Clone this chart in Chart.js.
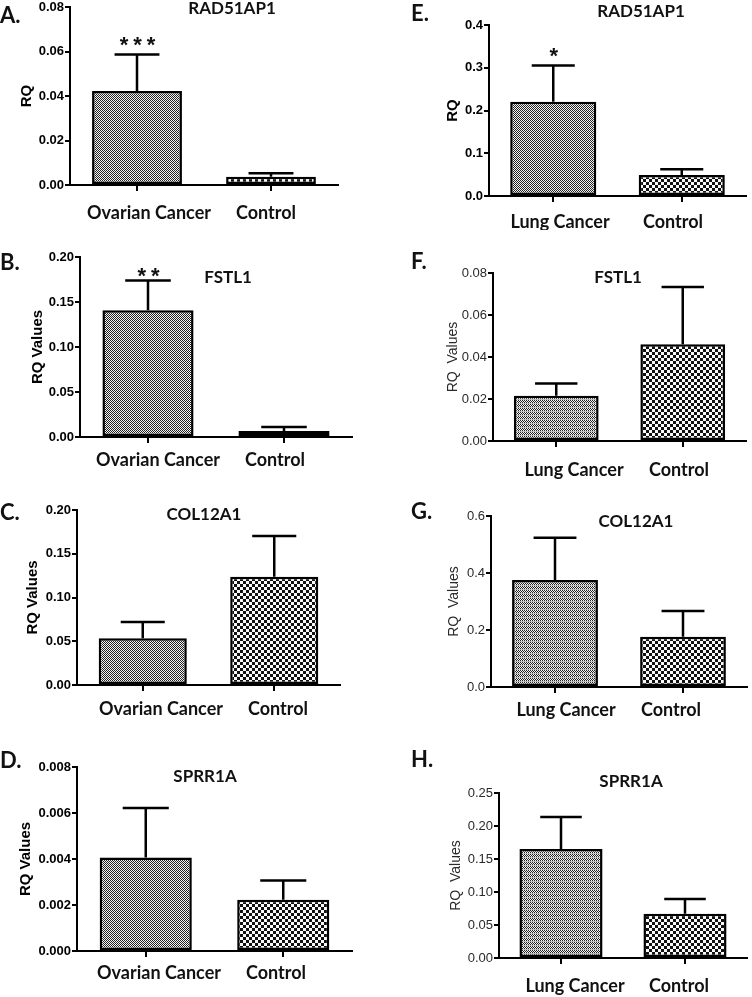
<!DOCTYPE html>
<html>
<head>
<meta charset="utf-8">
<script src="https://cdn.jsdelivr.net/npm/chart.js@4.4.0/dist/chart.umd.min.js"></script>
<style>
  body { margin: 0; background: #fff; width: 752px; height: 997px; overflow: hidden; position: relative; }
  canvas { position: absolute; }
</style>
</head>
<body>
<canvas id="panelA"></canvas>
<canvas id="panelB"></canvas>
<canvas id="panelC"></canvas>
<canvas id="panelD"></canvas>
<canvas id="panelE"></canvas>
<canvas id="panelF"></canvas>
<canvas id="panelG"></canvas>
<canvas id="panelH"></canvas>
<script>
// ---- data ----
const ovarianGroups = ['Ovarian Cancer', 'Control'];
const lungGroups = ['Lung Cancer', 'Control'];

const panelLetters = ['A.', 'B.', 'C.', 'D.', 'E.', 'F.', 'G.', 'H.'];
const geneTitles = ['RAD51AP1', 'FSTL1', 'COL12A1', 'SPRR1A', 'RAD51AP1', 'FSTL1', 'COL12A1', 'SPRR1A'];
const yAxisTitles = ['RQ', 'RQ Values', 'RQ Values', 'RQ Values', 'RQ', 'RQ  Values', 'RQ  Values', 'RQ  Values'];

// mean RQ and upper error (SEM) per group
const meanA = [0.0422, 0.0037];   const semA = [0.0165, 0.0016];
const meanB = [0.1409, 0.0067];   const semB = [0.0331, 0.0043];
const meanC = [0.0534, 0.1238];   const semC = [0.0186, 0.0465];
const meanD = [0.00406, 0.00223]; const semD = [0.00216, 0.00084];
const meanE = [0.2206, 0.049];    const semE = [0.0844, 0.0134];
const meanF = [0.0215, 0.0461];   const semF = [0.0059, 0.0272];
const meanG = [0.3758, 0.176];    const semG = [0.148, 0.091];
const meanH = [0.165, 0.0669];    const semH = [0.0488, 0.0226];

const starsA = ['***', ''];
const starsB = ['**', ''];
const starsE = ['*', ''];
const noStars = ['', ''];

// y tick labels: max, step, decimals
const yTickMax = [0.08, 0.20, 0.20, 0.008, 0.4, 0.08, 0.6, 0.25];
const yTickStep = [0.02, 0.05, 0.05, 0.002, 0.1, 0.02, 0.2, 0.05];
const yTickDecimals = [2, 2, 2, 3, 1, 2, 1, 2];

// ---- layout (page pixels) ----
const rowTops = [0, 230, 480, 740];
const rowBottoms = [230, 480, 740, 997];

// area = [left, right, top, bottom] of the plot box; xLabelAt = label centres (the
// group names were pasted a little off the bar centres in the original)
const panels = [
  { id: 'panelA', col: 0,   row: 0, area: [70, 338, 7, 185],   labels: ovarianGroups, mean: meanA, sem: semA, stars: starsA, heavy: true,  lung: false,
    titleAt: [232, 9],   letterAt: [0, 16],   yTitleX: 27, xLabelAt: [149, 266], xLabelY: 213, starGap: 13 },
  { id: 'panelB', col: 0,   row: 1, area: [80, 352, 257, 437], labels: ovarianGroups, mean: meanB, sem: semB, stars: starsB, heavy: true,  lung: false,
    titleAt: [228, 278], letterAt: [0, 263],  yTitleX: 38, xLabelAt: [158, 275], xLabelY: 460, starGap: 8 },
  { id: 'panelC', col: 0,   row: 2, area: [77, 340, 510, 685], labels: ovarianGroups, mean: meanC, sem: semC, stars: noStars, heavy: true, lung: false,
    titleAt: [204, 515], letterAt: [0, 513],  yTitleX: 33, xLabelAt: [161, 278], xLabelY: 709, starGap: 10 },
  { id: 'panelD', col: 0,   row: 3, area: [77, 352, 767, 951], labels: ovarianGroups, mean: meanD, sem: semD, stars: noStars, heavy: true, lung: false,
    titleAt: [205, 777], letterAt: [0, 761],  yTitleX: 26, xLabelAt: [159, 276], xLabelY: 973, starGap: 10 },
  { id: 'panelE', col: 376, row: 0, area: [489, 746, 25, 196], labels: lungGroups, mean: meanE, sem: semE, stars: starsE, heavy: true,  lung: true,
    titleAt: [641, 12],  letterAt: [411, 14], yTitleX: 77, xLabelAt: [560, 673], xLabelY: 222, starGap: 14 },
  { id: 'panelF', col: 376, row: 1, area: [493, 746, 273, 441], labels: lungGroups, mean: meanF, sem: semF, stars: noStars, heavy: false, lung: true,
    titleAt: [618, 278], letterAt: [411, 262], yTitleX: 77, xLabelAt: [574, 679], xLabelY: 470, starGap: 10 },
  { id: 'panelG', col: 376, row: 2, area: [491, 747, 516, 687], labels: lungGroups, mean: meanG, sem: semG, stars: noStars, heavy: false, lung: true,
    titleAt: [636, 522], letterAt: [411, 512], yTitleX: 78, xLabelAt: [566, 671], xLabelY: 710, starGap: 10 },
  { id: 'panelH', col: 376, row: 3, area: [499, 747, 793, 958], labels: lungGroups, mean: meanH, sem: semH, stars: noStars, heavy: false, lung: true,
    titleAt: [631, 782], letterAt: [411, 760], yTitleX: 80, xLabelAt: [575, 679], xLabelY: 986, starGap: 10 }
];

// fill patterns like the printed hatching
function makePattern(kind) {
  const c = document.createElement('canvas');
  const g = c.getContext('2d');
  if (kind === 'fine') {
    c.width = 2; c.height = 2;
    g.fillStyle = '#f4f4f4'; g.fillRect(0, 0, 2, 2);
    g.fillStyle = '#222'; g.fillRect(0, 0, 1, 1); g.fillRect(1, 1, 1, 1);
  } else if (kind === 'striped') {
    c.width = 2; c.height = 4;
    g.fillStyle = '#f4f4f4'; g.fillRect(0, 0, 2, 4);
    g.fillStyle = '#222'; g.fillRect(0, 0, 1, 1); g.fillRect(1, 1, 1, 1); g.fillRect(0, 2, 1, 1);
    g.fillStyle = '#bbb'; g.fillRect(0, 3, 2, 1);
  } else {
    c.width = 6; c.height = 6;
    g.fillStyle = '#fafafa'; g.fillRect(0, 0, 6, 6);
    g.fillStyle = '#111'; g.fillRect(0, 0, 3, 3); g.fillRect(3, 3, 3, 3);
  }
  return g.createPattern(c, 'repeat');
}

// error bars, asterisks, group names, gene title and panel letter
const panelDeco = {
  id: 'panelDeco',
  afterDatasetsDraw(chart, args, opts) {
    const ctx = chart.ctx;
    const y = chart.scales.y;
    const ds = chart.data.datasets[0];
    const bars = chart.getDatasetMeta(0).data;
    ctx.save();
    ctx.strokeStyle = '#000';
    ctx.lineWidth = 2.5;
    bars.forEach((bar, i) => {
      const top = y.getPixelForValue(ds.data[i] + opts.sem[i]);
      const half = bar.width / 4;
      ctx.beginPath();
      ctx.moveTo(bar.x, bar.y);
      ctx.lineTo(bar.x, top);
      ctx.moveTo(bar.x - half, top);
      ctx.lineTo(bar.x + half, top);
      ctx.stroke();
      if (opts.stars[i]) {
        ctx.fillStyle = '#111';
        ctx.font = 'bold 22px "Liberation Sans"';
        ctx.textAlign = 'center';
        ctx.textBaseline = 'middle';
        ctx.letterSpacing = '5px';
        ctx.fillText(opts.stars[i], bar.x + 3, top - opts.starGap + 5);
        ctx.letterSpacing = '0px';
      }
    });
    ctx.fillStyle = '#111';
    ctx.textBaseline = 'middle';
    ctx.textAlign = 'center';
    ctx.font = 'bold 18px Lato';
    chart.data.labels.forEach((name, i) => {
      ctx.fillText(name, opts.xLabelAt[i] - opts.offX, opts.xLabelY - opts.offY);
    });
    ctx.font = 'bold 17px Lato';
    ctx.fillText(opts.title, opts.titleAt[0] - opts.offX, opts.titleAt[1] - opts.offY);
    ctx.textAlign = 'left';
    ctx.font = 'bold 22px Lato';
    ctx.fillText(opts.letter, opts.letterAt[0] - opts.offX, opts.letterAt[1] - opts.offY);
    ctx.restore();
  }
};

const finePattern = makePattern('fine');
const stripedPattern = makePattern('striped');
const coarsePattern = makePattern('coarse');

panels.forEach((p, k) => {
  const canvas = document.getElementById(p.id);
  const top = rowTops[p.row] - 10;
  const height = rowBottoms[p.row] - top;
  canvas.width = 376;
  canvas.height = height;
  canvas.style.left = p.col + 'px';
  canvas.style.top = top + 'px';

  const [L, R, T, B] = p.area;
  const yWidth = L - p.col;
  const xHeight = top + height - B;
  const tickFont = { family: '"Liberation Sans", Arial', size: 13, weight: p.heavy ? 'bold' : 'normal' };
  const textColor = p.heavy ? '#000' : '#2a2a2a';
  const titleSize = p.heavy ? 15 : 14;
  const decimals = yTickDecimals[k];

  new Chart(canvas, {
    type: 'bar',
    data: {
      labels: p.labels,
      datasets: [{
        data: p.mean,
        backgroundColor: [p.lung && !p.heavy ? stripedPattern : finePattern, coarsePattern],
        borderColor: '#000',
        borderWidth: 2.5,
        borderSkipped: false,
        barPercentage: 0.67,
        categoryPercentage: 1
      }]
    },
    options: {
      responsive: false,
      animation: false,
      devicePixelRatio: 1,
      layout: { padding: { top: T - top, right: p.col + 376 - R, left: 0, bottom: 0 } },
      plugins: {
        legend: { display: false },
        tooltip: { enabled: false },
        panelDeco: {
          sem: p.sem, stars: p.stars, starGap: p.starGap,
          title: geneTitles[k], titleAt: p.titleAt,
          letter: panelLetters[k], letterAt: p.letterAt,
          xLabelAt: p.xLabelAt, xLabelY: p.xLabelY,
          offX: p.col, offY: top
        }
      },
      scales: {
        x: {
          afterFit: s => { s.height = xHeight; },
          grid: { display: true, drawOnChartArea: false, drawTicks: true, tickLength: 6, offset: false, color: '#000', lineWidth: 2 },
          border: { display: true, color: '#000', width: 2 },
          ticks: { display: false }
        },
        y: {
          min: 0,
          max: yTickMax[k],
          afterFit: s => { s.width = yWidth; },
          grid: { display: true, drawOnChartArea: false, drawTicks: true, tickLength: 5, color: '#000', lineWidth: 2 },
          border: { display: true, color: '#000', width: 2 },
          ticks: {
            stepSize: yTickStep[k],
            padding: 1,
            color: textColor,
            font: tickFont,
            callback: v => Number(v).toFixed(decimals)
          },
          title: {
            display: true,
            text: yAxisTitles[k],
            color: textColor,
            font: { family: '"Liberation Sans", Arial', size: titleSize, weight: p.heavy ? 'bold' : 'normal' },
            padding: { top: p.yTitleX - titleSize * 0.6, bottom: 0 }
          }
        }
      }
    },
    plugins: [panelDeco]
  });
});
</script>
</body>
</html>
